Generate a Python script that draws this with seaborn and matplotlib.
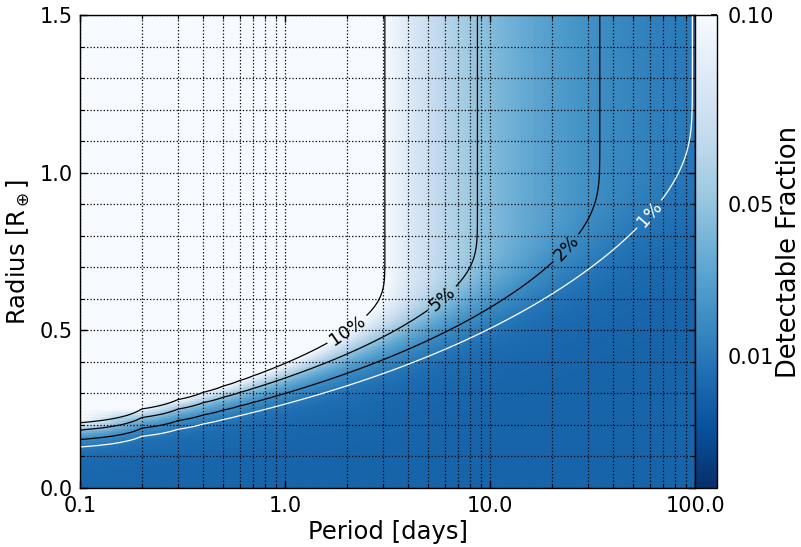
import math
import numpy as np
import matplotlib
matplotlib.use("Agg")
import matplotlib.pyplot as plt
import matplotlib.ticker as mticker
from matplotlib.colors import Normalize
import seaborn as sns

# ---- values ----
period_ticks = [0.1, 1.0, 10.0, 100.0]
period_tick_labels = ["0.1", "1.0", "10.0", "100.0"]
radius_ticks = [0.0, 0.5, 1.0, 1.5]
radius_tick_labels = ["0.0", "0.5", "1.0", "1.5"]
fraction_ticks = [0.10, 0.05, 0.01]
fraction_tick_labels = ["0.10", "0.05", "0.01"]
contour_levels = [0.01, 0.02, 0.05, 0.10]
contour_labels = ["1%", "2%", "5%", "10%"]
contour_colors = ["white", "black", "black", "black"]

# detection model parameters
period_at_10pct = 3.07        # days where the 10% contour turns vertical
transit_prob_ref = 0.10       # transit probability at that period
r50_sq_coeff = 0.16           # 50%-efficiency radius^2 = coeff * P^(1/3)
sharpness = 3.0               # steepness of efficiency vs radius^2
color_min, color_max = -0.025, 0.10

# computation grid (linear period step, as in the original)
periods = np.round(np.arange(1, 1001) * 0.1, 1)
radii = np.linspace(0.0, 1.5, 301)

PP, RR = np.meshgrid(periods, radii)
p_transit = np.minimum(transit_prob_ref * (PP / period_at_10pct) ** (-2.0 / 3.0), 1.0)
z = sharpness * (RR ** 2 / (r50_sq_coeff * PP ** (1.0 / 3.0)) - 1.0)
erf = np.vectorize(math.erf)
efficiency = 0.5 * (1.0 + erf(z / math.sqrt(2.0)))
fraction = p_transit * efficiency

sns.set_theme(style="ticks")
plt.rcParams["font.family"] = ["DejaVu Sans"]
plt.rcParams["text.color"] = "black"
plt.rcParams["axes.labelcolor"] = "black"
plt.rcParams["xtick.color"] = "black"
plt.rcParams["ytick.color"] = "black"

cmap = sns.color_palette("Blues_r", as_cmap=True)
norm = Normalize(vmin=color_min, vmax=color_max)

W, H = 801, 547
fig = plt.figure(figsize=(W / 100, H / 100), dpi=100)
ax = fig.add_axes([80 / W, 59 / H, 615 / W, 473 / H])
cax = fig.add_axes([695 / W, 59 / H, 22 / W, 473 / H])

mesh = ax.pcolormesh(periods, radii, fraction, cmap=cmap, norm=norm,
                     shading="gouraud", rasterized=True)
ax.set_xscale("log")
ax.set_xlim(0.1, 100)
ax.set_ylim(0, 1.5)

cs = ax.contour(periods, radii, fraction, levels=contour_levels,
                colors=contour_colors, linewidths=0.9)
fmt = dict(zip(cs.levels, contour_labels))
ax.clabel(cs, fmt=fmt, fontsize=13, inline=True, inline_spacing=4,
          manual=[(58.1, 0.876), (24.1, 0.755), (6.03, 0.59), (2.07, 0.49)])

ax.xaxis.set_major_locator(mticker.FixedLocator(period_ticks))
ax.xaxis.set_major_formatter(mticker.FixedFormatter(period_tick_labels))
ax.xaxis.set_minor_locator(mticker.LogLocator(base=10, subs=np.arange(2, 10)))
ax.xaxis.set_minor_formatter(mticker.NullFormatter())
ax.yaxis.set_major_locator(mticker.FixedLocator(radius_ticks))
ax.yaxis.set_major_formatter(mticker.FixedFormatter(radius_tick_labels))
ax.yaxis.set_minor_locator(mticker.MultipleLocator(0.1))

ax.set_axisbelow("line")
ax.grid(True, which="both", linestyle=":", color="black", linewidth=0.9)
ax.tick_params(which="both", direction="in", top=True, right=True,
               labelsize=15, color="black")
ax.tick_params(axis="x", which="major", pad=6)
ax.tick_params(axis="y", which="major", pad=5)
ax.tick_params(which="major", length=5, width=1)
ax.tick_params(which="minor", length=3, width=0.8)
for s in ax.spines.values():
    s.set_color("black")
    s.set_linewidth(1.0)

ax.set_xlabel("Period [days]", fontsize=17.5, labelpad=3)
ax.set_ylabel(r"Radius [R$_\oplus$]", fontsize=17.5, labelpad=6)

cb = fig.colorbar(mesh, cax=cax)
cb.set_ticks(fraction_ticks)
cb.set_ticklabels(fraction_tick_labels)
cax.tick_params(direction="in", labelsize=15, length=4, color="black", pad=8)
cb.outline.set_edgecolor("black")
cb.outline.set_linewidth(1.0)
cb.set_label("Detectable Fraction", fontsize=18.5, labelpad=1)

fig.savefig("out.png", dpi=100)
